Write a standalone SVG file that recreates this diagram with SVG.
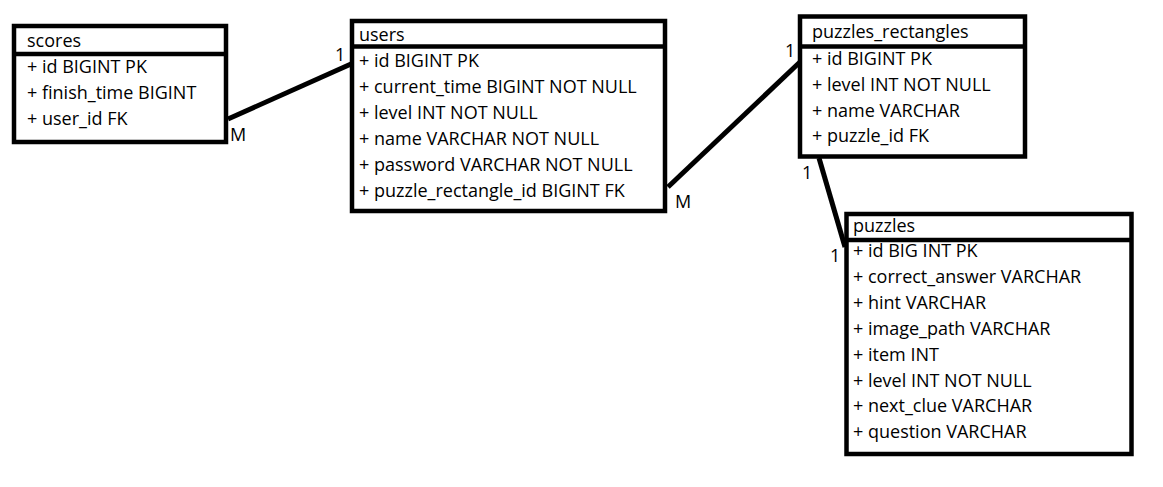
<svg xmlns="http://www.w3.org/2000/svg" width="1163" height="487" viewBox="0 0 1163 487">
<style>
.box{fill:#fff;stroke:#000;stroke-width:4.5}
.div{stroke:#000;stroke-width:4.5}
.conn{stroke:#000;stroke-width:5;stroke-linecap:butt;fill:none}
text{font-family:"Open Sans","Noto Sans","Liberation Sans",sans-serif;font-size:18px;fill:#000}
</style>
<rect width="1163" height="487" fill="#fff"/>
<g id="connectors">
<line class="conn" x1="228" y1="119" x2="351" y2="64"/>
<line class="conn" x1="668" y1="187" x2="800" y2="62"/>
<line class="conn" x1="819" y1="158" x2="845" y2="247"/>
<text x="230" y="141">M</text>
<text x="335" y="61">1</text>
<text x="675" y="208">M</text>
<text x="785" y="57">1</text>
<text x="802" y="179">1</text>
<text x="830" y="262">1</text>
</g>
<g id="scores">
<rect class="box" x="14" y="26" width="212" height="116"/>
<line class="div" x1="14" y1="54" x2="226" y2="54"/>
<text x="27" y="47">scores</text>
<text x="27" y="73">+ id BIGINT PK</text>
<text x="27" y="99">+ finish_time BIGINT</text>
<text x="27" y="125">+ user_id FK</text>
</g>
<g id="users">
<rect class="box" x="352" y="21" width="313" height="190"/>
<line class="div" x1="352" y1="46.5" x2="665" y2="46.5"/>
<text x="359" y="41">users</text>
<text x="359" y="67">+ id BIGINT PK</text>
<text x="359" y="93">+ current_time BIGINT NOT NULL</text>
<text x="359" y="119">+ level INT NOT NULL</text>
<text x="359" y="145">+ name VARCHAR NOT NULL</text>
<text x="359" y="171">+ password VARCHAR NOT NULL</text>
<text x="359" y="197">+ puzzle_rectangle_id BIGINT FK</text>
</g>
<g id="puzzles_rectangles">
<rect class="box" x="800" y="16.5" width="225" height="140"/>
<line class="div" x1="800" y1="46.5" x2="1025" y2="46.5"/>
<text x="812" y="38">puzzles_rectangles</text>
<text x="812" y="65">+ id BIGINT PK</text>
<text x="812" y="91">+ level INT NOT NULL</text>
<text x="812" y="117">+ name VARCHAR</text>
<text x="812" y="142">+ puzzle_id FK</text>
</g>
<g id="puzzles">
<rect class="box" x="846.5" y="214" width="285" height="240"/>
<line class="div" x1="846.5" y1="240" x2="1131.5" y2="240"/>
<text x="853" y="232">puzzles</text>
<text x="853" y="257">+ id BIG INT PK</text>
<text x="853" y="283">+ correct_answer VARCHAR</text>
<text x="853" y="309">+ hint VARCHAR</text>
<text x="853" y="335">+ image_path VARCHAR</text>
<text x="853" y="361">+ item INT</text>
<text x="853" y="387">+ level INT NOT NULL</text>
<text x="853" y="412">+ next_clue VARCHAR</text>
<text x="853" y="438">+ question VARCHAR</text>
</g>
</svg>
